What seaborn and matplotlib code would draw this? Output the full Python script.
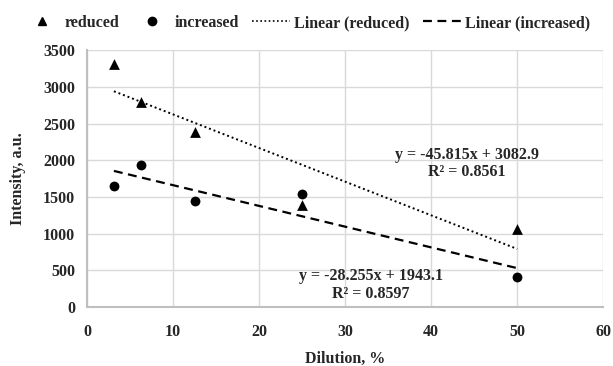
import numpy as np
import pandas as pd
import matplotlib
matplotlib.use("Agg")
import matplotlib.pyplot as plt
import seaborn as sns
from matplotlib.lines import Line2D

dilution = [3.125, 6.25, 12.5, 25, 50]
reduced = [3310, 2795, 2385, 1390, 1060]
increased = [1650, 1935, 1445, 1540, 410]
fit_reduced = [-45.815, 3082.9]
fit_increased = [-28.255, 1943.1]
r2_reduced = 0.8561
r2_increased = 0.8597
x_ticks = [0, 10, 20, 30, 40, 50, 60]
y_ticks = [0, 500, 1000, 1500, 2000, 2500, 3000, 3500]

sns.set_theme(style="whitegrid")
plt.rcParams['font.family'] = ['Liberation Serif', 'DejaVu Serif']
plt.rcParams['font.weight'] = 'bold'

FS = 11.5

fig = plt.figure(figsize=(6.13, 3.66), dpi=100)
ax = fig.add_axes([0.142, 0.161, 0.842, 0.702])

df = pd.DataFrame({"x": dilution, "reduced": reduced, "increased": increased})
sns.scatterplot(data=df, x="x", y="reduced", marker="^", color="black", s=60,
                edgecolor="black", linewidth=0, ax=ax, zorder=3)
sns.scatterplot(data=df, x="x", y="increased", marker="o", color="black", s=50,
                edgecolor="black", linewidth=0, ax=ax, zorder=3)

xs = np.array([min(dilution), max(dilution)])
lr = pd.DataFrame({"x": xs, "y": fit_reduced[0] * xs + fit_reduced[1]})
li = pd.DataFrame({"x": xs, "y": fit_increased[0] * xs + fit_increased[1]})
sns.lineplot(data=lr, x="x", y="y", color="black", linestyle=(0, (1, 1.5)), linewidth=1.4, ax=ax)
sns.lineplot(data=li, x="x", y="y", color="black", linestyle=(0, (4, 2.5)), linewidth=1.6, ax=ax)

ax.set_xlim(0, 60)
ax.set_ylim(0, 3500)
ax.set_xticks(x_ticks)
ax.set_yticks(y_ticks)
ax.tick_params(axis='both', labelsize=FS, length=0, pad=8.5)
ax.tick_params(axis='x', pad=12)
for lab in ax.get_xticklabels() + ax.get_yticklabels():
    lab.set_fontweight('bold')
ax.grid(True, color="#d9d9d9", linewidth=1)
for s in ['top', 'right']:
    ax.spines[s].set_visible(False)
for s in ['left', 'bottom']:
    ax.spines[s].set_color("#bfbfbf")
    ax.spines[s].set_linewidth(1.5)
ax.set_xlabel("Dilution, %", fontsize=FS, fontweight='bold', labelpad=8)
ax.set_ylabel("Intensity, a.u.", fontsize=FS, fontweight='bold', labelpad=12)

ax.text(44.2, 1960, f"y = {fit_reduced[0]}x + {fit_reduced[1]}\nR² = {r2_reduced}",
        ha="center", va="center", fontsize=FS, fontweight='bold', linespacing=1.1)
ax.text(33.0, 300, f"y = {fit_increased[0]}x + {fit_increased[1]}\nR² = {r2_increased}",
        ha="center", va="center", fontsize=FS, fontweight='bold', linespacing=1.1)

handles = [
    Line2D([], [], marker="^", color="black", linestyle="none", markersize=6),
    Line2D([], [], marker="o", color="black", linestyle="none", markersize=6),
    Line2D([], [], color="black", linestyle=(0, (1, 1.5)), linewidth=1.2),
    Line2D([], [], color="black", linestyle=(0, (4, 2.5)), linewidth=1.6),
]
labels = ["reduced", "increased", "Linear (reduced)", "Linear (increased)"]
fig.legend(handles, labels, loc="center right", bbox_to_anchor=(0.973, 0.937), ncol=4,
           frameon=False, prop={'weight': 'bold', 'size': FS}, borderaxespad=0,
           handlelength=2.4, columnspacing=0.8, handletextpad=0.25)

fig.savefig("out.png", dpi=100)
